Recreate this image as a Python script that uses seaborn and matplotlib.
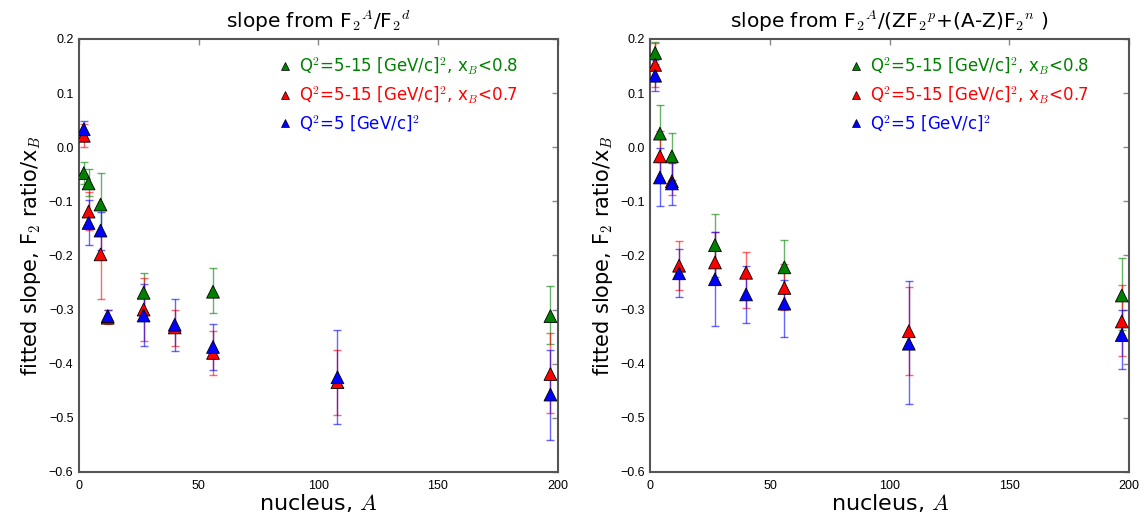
import matplotlib
matplotlib.use('Agg')
import matplotlib.pyplot as plt
import seaborn as sns
import pandas as pd
import numpy as np

# nuclei (mass number A)
A_all = [2, 4, 9, 12, 27, 40, 56, 108, 197]
A_green = [2, 4, 9, 27, 56, 197]

# --- left panel: slope from F2A/F2d ---
left_green_y = [-0.048, -0.067, -0.106, -0.269, -0.267, -0.312]
left_green_lo = [-0.068, -0.091, -0.165, -0.305, -0.307, -0.364]
left_green_hi = [-0.027, -0.041, -0.048, -0.233, -0.224, -0.256]

left_red_y = [0.021, -0.119, -0.198, -0.315, -0.300, -0.333, -0.380, -0.434, -0.419]
left_red_lo = [0.001, -0.153, -0.281, -0.326, -0.358, -0.368, -0.420, -0.494, -0.491]
left_red_hi = [0.043, -0.082, -0.159, -0.301, -0.241, -0.300, -0.340, -0.374, -0.344]

left_blue_y = [0.033, -0.140, -0.154, -0.312, -0.311, -0.328, -0.369, -0.425, -0.457]
left_blue_lo = [0.017, -0.181, -0.190, -0.322, -0.368, -0.376, -0.411, -0.512, -0.540]
left_blue_hi = [0.049, -0.098, -0.120, -0.300, -0.252, -0.280, -0.327, -0.337, -0.374]

# --- right panel: slope from F2A/(ZF2p+(A-Z)F2n) ---
right_green_y = [0.174, 0.025, -0.017, -0.181, -0.222, -0.274]
right_green_lo = [0.153, -0.027, -0.060, -0.239, -0.270, -0.338]
right_green_hi = [0.195, 0.077, 0.026, -0.123, -0.172, -0.205]

right_red_y = [0.152, -0.017, -0.063, -0.219, -0.213, -0.232, -0.260, -0.340, -0.322]
right_red_lo = [0.112, -0.063, -0.089, -0.263, -0.252, -0.298, -0.301, -0.420, -0.385]
right_red_hi = [0.193, 0.029, -0.027, -0.174, -0.156, -0.194, -0.215, -0.258, -0.254]

right_blue_y = [0.132, -0.056, -0.067, -0.233, -0.244, -0.272, -0.289, -0.363, -0.347]
right_blue_lo = [0.104, -0.109, -0.106, -0.277, -0.330, -0.325, -0.350, -0.475, -0.410]
right_blue_hi = [0.161, -0.001, -0.030, -0.188, -0.157, -0.219, -0.245, -0.248, -0.300]

y_ticks = [-0.6, -0.5, -0.4, -0.3, -0.2, -0.1, 0.0, 0.1, 0.2]
x_ticks = [0, 50, 100, 150, 200]

labels = [r'Q$^2$=5-15 [GeV/c]$^2$, x$_B$<0.8',
          r'Q$^2$=5-15 [GeV/c]$^2$, x$_B$<0.7',
          r'Q$^2$=5 [GeV/c]$^2$']
colors = ['#008000', '#ff0000', '#0000ff']

titles = [r'slope from F$_2$$^A$/F$_2$$^d$',
          r'slope from F$_2$$^A$/(ZF$_2$$^p$+(A-Z)F$_2$$^n$ )']

sns.set_style('white')
plt.rcParams['font.family'] = ['DejaVu Sans']
plt.rcParams['mathtext.fontset'] = 'cm'
plt.rcParams['text.color'] = 'black'
plt.rcParams['axes.labelcolor'] = 'black'
plt.rcParams['xtick.labelcolor'] = 'black'
plt.rcParams['ytick.labelcolor'] = 'black'


def build_frame(series):
    rows = []
    for lab, xs, ys, lo, hi in series:
        for x, y, l, h in zip(xs, ys, lo, hi):
            rows.append({'A': x, 'slope': y, 'lo': l, 'hi': h, 'set': lab})
    return pd.DataFrame(rows)


panels = [
    build_frame([(labels[0], A_green, left_green_y, left_green_lo, left_green_hi),
                 (labels[1], A_all, left_red_y, left_red_lo, left_red_hi),
                 (labels[2], A_all, left_blue_y, left_blue_lo, left_blue_hi)]),
    build_frame([(labels[0], A_green, right_green_y, right_green_lo, right_green_hi),
                 (labels[1], A_all, right_red_y, right_red_lo, right_red_hi),
                 (labels[2], A_all, right_blue_y, right_blue_lo, right_blue_hi)]),
]

fig = plt.figure(figsize=(11.45, 5.15), dpi=100)
ax_left = fig.add_axes([0.069, 0.0835, 0.418, 0.841])
ax_right = fig.add_axes([0.568, 0.0835, 0.418, 0.841])

for ax, df, title in zip([ax_left, ax_right], panels, titles):
    # error bars first, lighter
    for lab, col in zip(labels, colors):
        sub = df[df['set'] == lab]
        yerr = np.vstack([sub['slope'] - sub['lo'], sub['hi'] - sub['slope']])
        ax.errorbar(sub['A'], sub['slope'], yerr=yerr, fmt='none', ecolor=col,
                    elinewidth=1.0, capsize=3, capthick=1.0, alpha=0.6, zorder=2)

    sns.scatterplot(data=df, x='A', y='slope', hue='set', hue_order=labels,
                    palette=colors, marker='^', s=85, edgecolor='black',
                    linewidth=0.6, ax=ax, zorder=3, legend=False)

    handles = [plt.Line2D([], [], marker='^', linestyle='none', color=c,
                          markeredgecolor='black', markeredgewidth=0.5, markersize=6)
               for c in colors]
    leg = ax.legend(handles, labels, loc='upper left', bbox_to_anchor=(0.395, 0.985),
                    frameon=False, fontsize=12, handlelength=0.8, handletextpad=0.45,
                    labelspacing=0.45, borderaxespad=0.2)
    for txt, c in zip(leg.get_texts(), colors):
        txt.set_color(c)

    ax.set_xlim(0, 200)
    ax.set_ylim(-0.6, 0.2)
    ax.set_xticks(x_ticks)
    ax.set_yticks(y_ticks)
    ax.set_yticklabels([f'{v:.1f}'.replace('-', '\u2212') if v < 0 else f'{v:.1f}'
                        for v in y_ticks])
    ax.tick_params(direction='in', length=4, width=1, color='#888888',
                   top=True, right=True, labelsize=9, pad=4)
    ax.tick_params(axis='x', pad=6)
    for lbl in ax.get_xticklabels() + ax.get_yticklabels():
        lbl.set_fontfamily('Liberation Sans')
    for sp in ax.spines.values():
        sp.set_color('#555555')
        sp.set_linewidth(1.5)

    ax.set_title(title, fontsize=14.5, pad=8)
    ax.set_xlabel(r'nucleus, $A$', fontsize=16, labelpad=0)
    ax.set_ylabel(r'fitted slope, F$_2$ ratio/x$_B$', fontsize=15, labelpad=4)

fig.savefig('out.png', dpi=100)
